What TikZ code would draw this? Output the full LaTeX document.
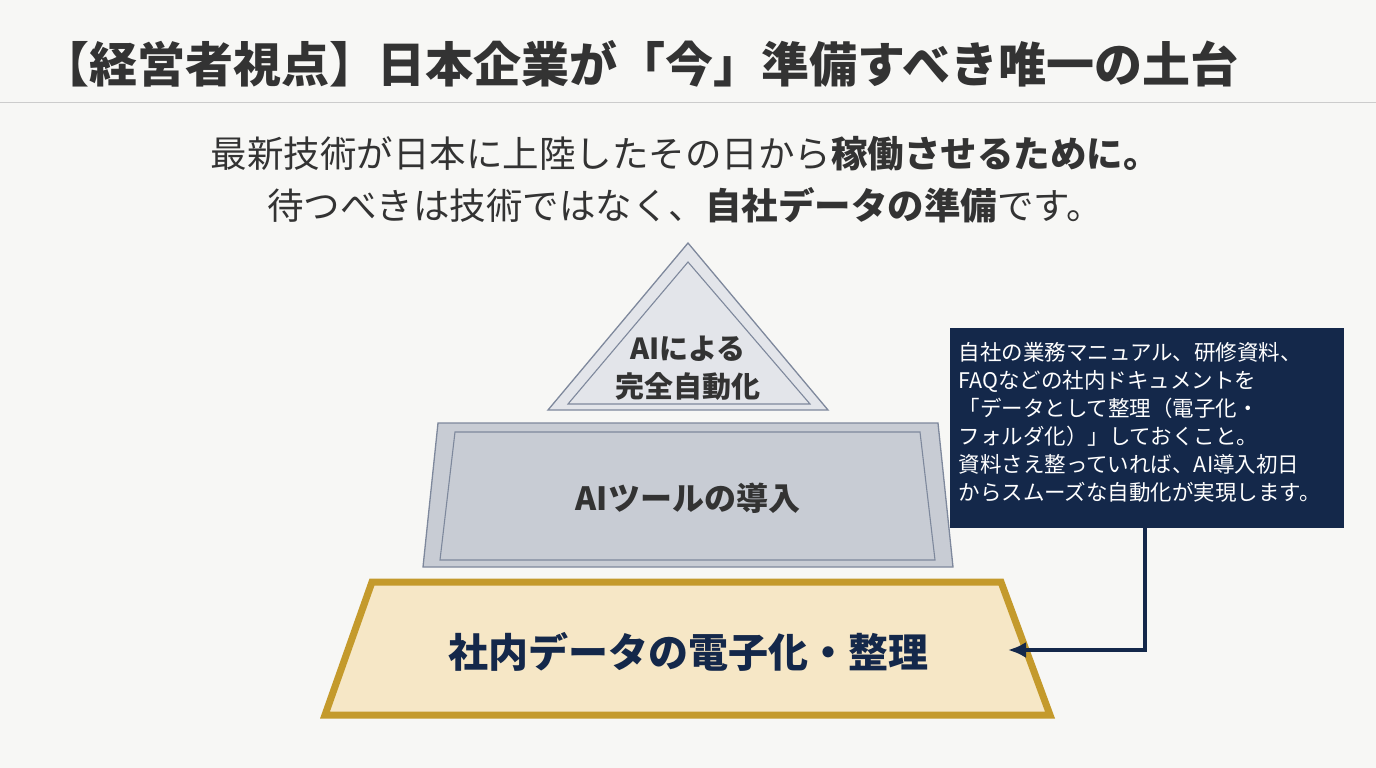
\documentclass[tikz,border=0pt]{standalone}
\usepackage{fontspec}
\usetikzlibrary{arrows.meta}
\setmainfont{Noto Sans CJK JP}
\begin{document}
\begin{tikzpicture}[x=1pt,y=-1pt]
\definecolor{navy}{HTML}{14284A}
\definecolor{gold}{HTML}{C49A2C}
\definecolor{cream}{HTML}{F6E7C6}
\definecolor{g1}{HTML}{E3E5EA}
\definecolor{g2}{HTML}{C8CCD4}
\definecolor{edge}{HTML}{7E889C}
\definecolor{bg}{HTML}{F7F7F5}
\fill[bg] (0,0) rectangle (1376,768);
\useasboundingbox (0,0) rectangle (1376,768);
\node[anchor=west, font=\fontsize{48}{52}\selectfont\bfseries, text=black!80] (title) at (38,64) {【経営者視点】日本企業が「今」準備すべき唯一の土台};
\draw[black!20, line width=1pt] (0,102) -- (1376,102);
\node[font=\fontsize{36.5}{40}\selectfont, text=black!80] (s1) at (685,154) {最新技術が日本に上陸したその日から\textbf{稼働させるために。}};
\node[font=\fontsize{36.5}{40}\selectfont, text=black!80] (s2) at (685,205) {待つべきは技術ではなく、\textbf{自社データの準備}です。};
% top triangle
\filldraw[fill=g1, draw=edge, line width=1.3pt] (688,243) -- (828,410) -- (548,410) -- cycle;
\draw[edge, line width=1.1pt] (688,262) -- (810,404) -- (568,404) -- cycle;
\node[font=\fontsize{29}{38}\selectfont\bfseries, text=black!80, align=center] (t1) at (688,368) {AIによる\\完全自動化};
% middle
\filldraw[fill=g2, draw=edge, line width=1.3pt] (438,423) -- (938,423) -- (953,567) -- (423,567) -- cycle;
\draw[edge, line width=1.1pt] (455,432) -- (920,432) -- (935,560) -- (440,560) -- cycle;
\node[font=\fontsize{32}{36}\selectfont\bfseries, text=black!80] (t2) at (688,498) {AIツールの導入};
% bottom
\filldraw[fill=cream, draw=gold, line width=7pt] (372,582) -- (1001,582) -- (1050,715) -- (325,715) -- cycle;
\node[font=\fontsize{40}{44}\selectfont\bfseries, text=navy] (t3) at (688,652) {社内データの電子化・整理};
\coordinate (tip) at (1008,650);
% callout
\node[fill=navy, minimum width=394pt, minimum height=200pt, anchor=north west] (box) at (950,328) {};
\node[anchor=north west, text=white, align=left, font=\fontsize{21.5}{28}\selectfont] (btxt) at (955,339) {自社の業務マニュアル、研修資料、\\FAQなどの社内ドキュメントを\\「データとして整理（電子化・\\フォルダ化）」しておくこと。\\資料さえ整っていれば、AI導入初日\\からスムーズな自動化が実現します。};
\draw[navy, line width=4.5pt, -{Latex[length=18pt,width=16pt]}] (1145,528) |- (tip);
\end{tikzpicture}
\end{document}
